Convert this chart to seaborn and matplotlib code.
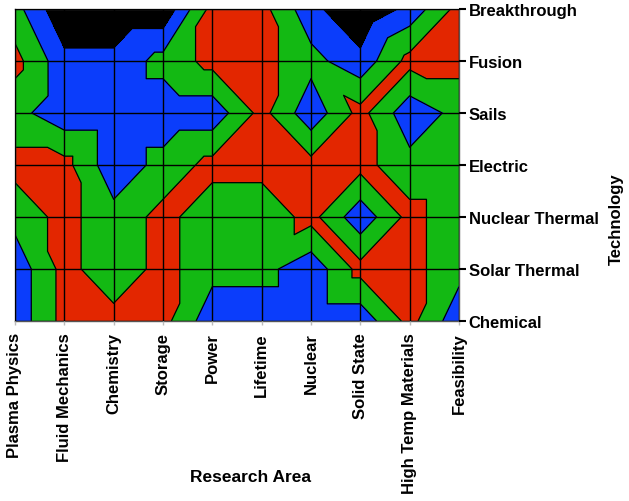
import numpy as np
import pandas as pd
import seaborn as sns
import matplotlib
matplotlib.use("Agg")
import matplotlib.pyplot as plt
import matplotlib.tri as mtri

research_areas = ["Plasma Physics", "Fluid Mechanics", "Chemistry", "Storage", "Power",
                  "Lifetime", "Nuclear", "Solid State", "High Temp Materials", "Feasibility"]
technologies = ["Chemical", "Solar Thermal", "Nuclear Thermal", "Electric", "Sails",
                "Fusion", "Breakthrough"]

# readiness scores (1 = red ... 4 = black), one list per technology
chemical        = [3, 1, 1, 1, 3, 3, 3, 3, 1, 3]
solar_thermal   = [3, 1, 2, 1, 2, 2, 3, 1, 1, 2]
nuclear_thermal = [2, 1, 2, 1, 2, 2, 1, 3, 1, 2]
electric        = [1, 1, 3, 2, 1, 1, 1, 1, 2, 2]
sails           = [2, 3, 3, 3, 3, 1, 3, 1, 3, 2]
fusion          = [1, 3, 3, 2, 1, 1, 2, 3, 1, 1]
breakthrough    = [2, 4, 4, 4, 1, 1, 3, 4, 3, 1]

levels = [0.5, 1.34, 2.34, 3.25, 4.5]
colors = ["#e32600", "#13b913", "#0b3dfb", "#000000"]

# triangulation diagonal per grid cell (M: upper-left to lower-right, A: lower-left to upper-right)
cell_diagonals = ["MMAAMMAMA",   # Chemical - Solar Thermal
                  "MMMMMAMAM",   # Solar Thermal - Nuclear Thermal
                  "MMMAMMAMA",   # Nuclear Thermal - Electric
                  "MAMMAMAMA",   # Electric - Sails
                  "MMAAMAMAM",   # Sails - Fusion
                  "MMMAMMMMA"]   # Fusion - Breakthrough

rows = [chemical, solar_thermal, nuclear_thermal, electric, sails, fusion, breakthrough]
df = pd.DataFrame(rows, index=technologies, columns=research_areas)
long = df.reset_index(names="tech").melt(id_vars="tech", var_name="area", value_name="score")
long["xi"] = long["area"].map({a: i for i, a in enumerate(research_areas)}).astype(float)
long["yi"] = long["tech"].map({t: i for i, t in enumerate(technologies)}).astype(float)
long = long.sort_values(["yi", "xi"]).reset_index(drop=True)

nx = len(research_areas)
triangles = []
for j, diag in enumerate(cell_diagonals):
    for i, d in enumerate(diag):
        bl, br = j*nx + i, j*nx + i + 1
        tl, tr = (j+1)*nx + i, (j+1)*nx + i + 1
        if d == "M":
            triangles += [[tl, bl, br], [tl, br, tr]]
        else:
            triangles += [[bl, br, tr], [bl, tr, tl]]

sns.set_style("white")
plt.rcParams["font.family"] = ["Liberation Sans", "DejaVu Sans"]
plt.rcParams["font.weight"] = "bold"
plt.rcParams["text.color"] = "black"
plt.rcParams["axes.labelcolor"] = "black"

fig = plt.figure(figsize=(6.29, 5.02), dpi=100)
ax = fig.add_axes([15/629, 1-322/502, 444/629, 312/502])

tri = mtri.Triangulation(long["xi"].values, long["yi"].values, triangles)
ax.tricontourf(tri, long["score"].values, levels=levels, colors=colors, zorder=1)
ax.tricontour(tri, long["score"].values, levels=levels[1:-1], colors="black",
              linewidths=0.9, zorder=2)

ax.set_xlim(0, nx-1)
ax.set_ylim(0, len(technologies)-1)
ax.set_xticks(range(nx))
ax.set_xticklabels(research_areas, rotation=90, fontsize=12, fontweight="bold")
ax.set_yticks(range(len(technologies)))
ax.set_yticklabels(technologies, fontsize=12, fontweight="bold")
ax.yaxis.tick_right()
ax.yaxis.set_label_position("right")
ax.tick_params(axis="y", length=5, width=1.5, color="black", labelcolor="black",
               pad=2, right=True, left=False)
ax.tick_params(axis="x", length=3, width=1, color="#bbbbbb", labelcolor="black",
               pad=5, bottom=True)

ax.set_axisbelow(False)
ax.grid(True, color="black", linewidth=1.0, zorder=3)
for s in ax.spines.values():
    s.set_color("#555555")
    s.set_linewidth(1.0)

ax.set_xlabel("Research Area", fontsize=12.5, fontweight="bold", color="black")
ax.xaxis.set_label_coords(0.53, -0.475)
ax.set_ylabel("Technology", fontsize=12, fontweight="bold", color="black")
ax.yaxis.set_label_coords(1.338, 0.33)

fig.savefig("out.png", dpi=100)
